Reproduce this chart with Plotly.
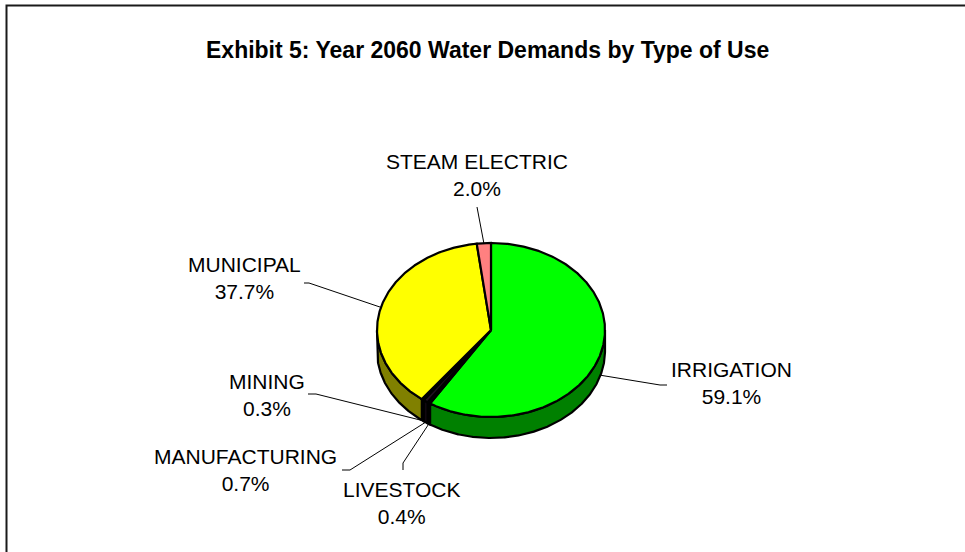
import numpy as np
import plotly.graph_objects as go

# Year 2060 water demand shares by type of use (percent)
categories = ["IRRIGATION", "LIVESTOCK", "MANUFACTURING", "MINING", "MUNICIPAL", "STEAM ELECTRIC"]
shares = [59.1, 0.4, 0.7, 0.3, 37.7, 2.0]
top_colors = ["#00FF00", "#101020", "#201020", "#102020", "#FFFF00", "#FF8080"]
side_colors = ["#008000", "#080810", "#100810", "#081010", "#808000", "#804040"]

# Pie geometry in page pixels (y grows downward)
CX, CY = 491.0, 330.0
RX, RY = 114.0, 87.0
DEPTH = 21.0

# Label centres and leader-line elbow points
label_xy = {
    "IRRIGATION": (731, 383),
    "LIVESTOCK": (402, 503),
    "MANUFACTURING": (245, 470),
    "MINING": (267, 395),
    "MUNICIPAL": (244, 278),
    "STEAM ELECTRIC": (477, 175),
}
leader_pts = {
    "IRRIGATION": [(660, 385), (667, 385)],
    "LIVESTOCK": [(403, 463), (403, 470)],
    "MANUFACTURING": [(350, 470), (342, 470)],
    "MINING": [(316, 394), (308, 394)],
    "MUNICIPAL": [(309, 283), (304, 283)],
    "STEAM ELECTRIC": [(477, 207)],
}


def ellipse(theta_deg, drop=0.0):
    t = np.radians(theta_deg)
    return CX + RX * np.sin(t), CY - RY * np.cos(t) + drop


total = sum(shares)
bounds = np.concatenate([[0.0], np.cumsum(shares) / total * 360.0])

fig = go.Figure()

# Side walls (only the front half, 90..270 degrees clockwise from top, is visible)
for i, name in enumerate(categories):
    a, b = max(bounds[i], 90.0), min(bounds[i + 1], 270.0)
    if b <= a:
        continue
    th = np.linspace(a, b, max(int((b - a) * 2), 2))
    xt, yt = ellipse(th)
    xb, yb = ellipse(th[::-1], DEPTH)
    xs = np.concatenate([xt, xb, xt[:1]])
    ys = np.concatenate([yt, yb, yt[:1]])
    fig.add_trace(go.Scatter(x=xs, y=ys, mode="lines", fill="toself",
                             fillcolor=side_colors[i],
                             line=dict(color="black", width=2.2),
                             hoverinfo="skip", showlegend=False))

# Top faces
for i, name in enumerate(categories):
    a, b = bounds[i], bounds[i + 1]
    th = np.linspace(a, b, max(int((b - a) * 2), 2))
    xa, ya = ellipse(th)
    xs = np.concatenate([[CX], xa, [CX]])
    ys = np.concatenate([[CY], ya, [CY]])
    fig.add_trace(go.Scatter(x=xs, y=ys, mode="lines", fill="toself",
                             fillcolor=top_colors[i],
                             line=dict(color="black", width=2.2),
                             hoverinfo="skip", showlegend=False))

# Leader lines and category labels
for i, name in enumerate(categories):
    mid = (bounds[i] + bounds[i + 1]) / 2.0
    front = np.cos(np.radians(mid)) < 0
    ax, ay = ellipse(mid, DEPTH if front else 0.0)
    pts = [(ax, ay)] + leader_pts[name]
    fig.add_trace(go.Scatter(x=[p[0] for p in pts], y=[p[1] for p in pts],
                             mode="lines", line=dict(color="black", width=1),
                             hoverinfo="skip", showlegend=False))
    lx, ly = label_xy[name]
    fig.add_annotation(x=lx, y=ly, text=f"{name}<br>{shares[i]:.1f}%",
                       showarrow=False, xanchor="center", yanchor="middle",
                       font=dict(family="Liberation Sans, Arial", size=21, color="black"))

fig.add_annotation(x=487, y=50, text="<b>Exhibit 5: Year 2060 Water Demands by Type of Use</b>",
                   showarrow=False, xanchor="center", yanchor="middle",
                   font=dict(family="Liberation Sans, Arial", size=23, color="black"))

# Chart frame
fig.add_shape(type="rect", x0=6.5, y0=5.5, x1=980, y1=570,
              line=dict(color="#1a1a1a", width=2), layer="above")

fig.update_xaxes(range=[0, 965], visible=False, fixedrange=True)
fig.update_yaxes(range=[552, 0], visible=False, fixedrange=True)
fig.update_layout(width=965, height=552, margin=dict(l=0, r=0, t=0, b=0),
                  paper_bgcolor="white", plot_bgcolor="white")

fig.write_html("out.html", config={"displayModeBar": False})
